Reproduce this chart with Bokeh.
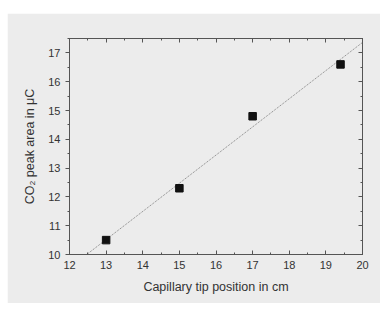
import numpy as np
from bokeh.plotting import figure
from bokeh.models import LinearAxis, SingleIntervalTicker, Range1d, Spacer
from bokeh.layouts import row, column
from bokeh.embed import file_html
from bokeh.resources import INLINE

# data
tip_position_cm = [13.0, 15.0, 17.0, 19.4]
co2_peak_area_uC = [10.5, 12.3, 14.8, 16.6]
fit_x = [12.47, 20.0]
x_ticks_range = [12, 20]
y_ticks_range = [10, 17.5]

slope, intercept = np.polyfit(tip_position_cm, co2_peak_area_uC, 1)
fit_y = [slope * x + intercept for x in fit_x]

BG = "#ececec"
AX = "#555555"
TXT = "#333333"
FONT = "Liberation Sans"

p = figure(width=373, height=290, output_backend="svg", toolbar_location=None,
           x_range=Range1d(*x_ticks_range), y_range=Range1d(*y_ticks_range),
           background_fill_color=BG, border_fill_color=BG,
           min_border_left=62, min_border_right=18, min_border_top=25, min_border_bottom=49)
p.outline_line_color = AX
p.grid.visible = False

p.line(fit_x, fit_y, line_color="#808080", line_width=1, line_dash="1 1")
p.scatter(tip_position_cm, co2_peak_area_uC, marker="square", size=7.5,
          fill_color="#111111", line_color="#111111")

def style(ax, tin, tout, labels=True):
    ax.ticker = SingleIntervalTicker(interval=1, num_minor_ticks=2)
    ax.axis_line_color = AX
    ax.major_tick_line_color = AX
    ax.minor_tick_line_color = AX
    ax.major_tick_in = tin
    ax.major_tick_out = tout
    ax.minor_tick_in = 2 if tin else 0
    ax.minor_tick_out = 2 if tout else 0
    ax.major_label_text_font = FONT
    ax.major_label_text_font_size = "11px"
    ax.major_label_text_color = TXT
    ax.axis_label_text_font = FONT
    ax.axis_label_text_font_size = "12.5px"
    ax.axis_label_text_font_style = "normal"
    ax.axis_label_text_color = TXT
    if not labels:
        ax.major_label_text_font_size = "0px"
        ax.major_label_text_alpha = 0

xa = p.xaxis[0]
style(xa, 4, 0)
xa.axis_label = "Capillary tip position in cm"
xa.major_label_standoff = 6
xa.axis_label_standoff = 8

ya = p.yaxis[0]
style(ya, 0, 4)
ya.axis_label = "CO\u2082 peak area in \u03bcC"
ya.major_label_standoff = 5
ya.axis_label_standoff = 8

top = LinearAxis()
style(top, 4, 0, labels=False)
top.major_label_standoff = 0
p.add_layout(top, "above")

right = LinearAxis()
style(right, 4, 0, labels=False)
right.major_label_standoff = 0
p.add_layout(right, "right")

layout = row(Spacer(width=7, height=303),
             column(Spacer(width=373, height=13), p, spacing=0),
             spacing=0)
open("out.html", "w").write(file_html(layout, INLINE))
